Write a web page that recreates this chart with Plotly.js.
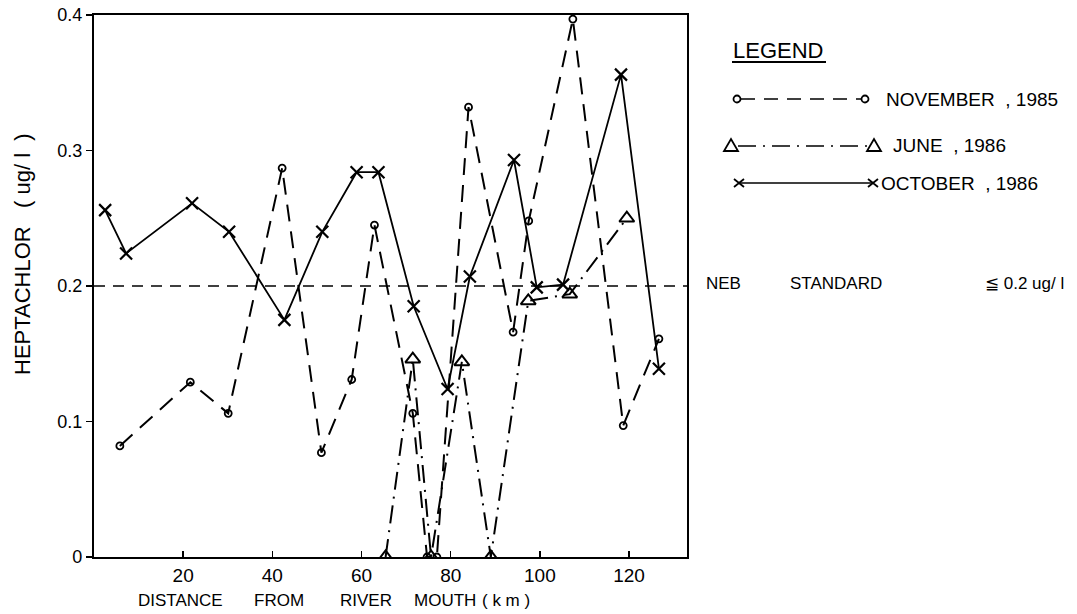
<!DOCTYPE html>
<html>
<head>
<meta charset="utf-8">
<script src="https://cdn.plot.ly/plotly-3.0.1.min.js"></script>
<style>html,body{margin:0;padding:0;background:#fff;}#chart{width:1077px;height:614px;}</style>
</head>
<body>
<div id="chart"></div>
<script>
// Distance from river mouth (km) and heptachlor (ug/l)
var novX = [5.8, 21.6, 30.1, 42.2, 51.0, 57.8, 62.9, 71.5, 74.7, 76.9, 84.0, 94.0, 97.5, 107.4, 118.7, 126.7];
var novY = [0.082, 0.129, 0.106, 0.287, 0.077, 0.131, 0.245, 0.106, 0.0, 0.0, 0.332, 0.166, 0.248, 0.397, 0.097, 0.161];
var junX = [65.4, 71.5, 75.6, 82.5, 89.0, 97.4, 106.7, 119.5];
var junY = [0.0, 0.146, 0.0, 0.144, 0.0, 0.189, 0.194, 0.250];
var octX = [2.5, 7.2, 22.0, 30.3, 42.7, 51.2, 58.9, 63.8, 71.7, 79.3, 84.3, 94.2, 99.3, 105.2, 118.2, 126.7];
var octY = [0.256, 0.224, 0.261, 0.240, 0.175, 0.240, 0.284, 0.284, 0.185, 0.124, 0.207, 0.293, 0.199, 0.201, 0.356, 0.139];
var stdX = [0, 133];
var stdY = [0.2, 0.2];
var xTicks = [20, 40, 60, 80, 100, 120];
var yTicks = [0, 0.1, 0.2, 0.3, 0.4];
var yTickText = ['0', '0.1', '0.2', '0.3', '0.4'];
var seriesNames = ['NOVEMBER , 1985', 'JUNE , 1986', 'OCTOBER , 1986'];
var xTitleWords = ['DISTANCE', 'FROM', 'RIVER', 'MOUTH', '( k m )'];
var stdWords = ['NEB', 'STANDARD', '≦ 0.2 ug/ l'];

var FONT = 'Liberation Sans, Arial, sans-serif';
var INK = '#000';

var traces = [
  {x: stdX, y: stdY, mode: 'lines', line: {color: INK, width: 1.5, dash: '11px,8px'}, hoverinfo: 'skip', name: 'NEB standard'},
  {x: novX, y: novY, mode: 'lines+markers', name: seriesNames[0],
   line: {color: INK, width: 2, dash: '17px,10px'},
   marker: {symbol: 'circle-open', size: 7, color: INK, line: {width: 1.8, color: INK}}},
  {x: junX, y: junY, mode: 'lines+markers', name: seriesNames[1],
   line: {color: INK, width: 2, dash: '18px,7px,2px,7px'},
   marker: {symbol: 'triangle-up-open', size: 13, color: INK, line: {width: 2, color: INK}}},
  {x: octX, y: octY, mode: 'lines+markers', name: seriesNames[2],
   line: {color: INK, width: 1.8},
   marker: {symbol: 'x-thin-open', size: 12, color: INK, line: {width: 2.2, color: INK}}}
];

// paper coordinate helpers (plot area: px 94..687, py 15..557)
function px(x) { return (x - 94) / 593; }
function py(y) { return (557 - y) / 542; }

var shapes = [
  {type: 'line', xref: 'paper', yref: 'paper', x0: px(732), x1: px(826), y0: py(62), y1: py(62), line: {color: INK, width: 2}},
  {type: 'line', xref: 'paper', yref: 'paper', x0: px(741), x1: px(861), y0: py(99), y1: py(99), line: {color: INK, width: 1.6, dash: '14px,9px'}},
  {type: 'line', xref: 'paper', yref: 'paper', x0: px(738), x1: px(867), y0: py(146), y1: py(146), line: {color: INK, width: 1.6, dash: '18px,7px,2px,7px'}},
  {type: 'line', xref: 'paper', yref: 'paper', x0: px(739), x1: px(872), y0: py(183), y1: py(183), line: {color: INK, width: 1.6}}
];
function marker(kind, cx, cy) {
  var base = {xref: 'paper', yref: 'paper', xsizemode: 'pixel', ysizemode: 'pixel', xanchor: px(cx), yanchor: py(cy), line: {color: INK, width: 1.8}};
  if (kind === 'o') { base.type = 'circle'; base.x0 = -3.5; base.x1 = 3.5; base.y0 = -3.5; base.y1 = 3.5; }
  if (kind === 't') { base.type = 'path'; base.path = 'M-7,-5 L7,-5 L0,7 Z'; }
  if (kind === 'x') { base.type = 'path'; base.path = 'M-5,-4 L5,4 M-5,4 L5,-4'; }
  return base;
}
shapes.push(marker('o', 737, 99), marker('o', 865, 99));
shapes.push(marker('t', 731, 146), marker('t', 874, 146));
shapes.push(marker('x', 739, 183), marker('x', 873, 183));

function txt(x, y, s, size, anchor) {
  return {xref: 'paper', yref: 'paper', x: px(x), y: py(y), xanchor: anchor || 'left', yanchor: 'middle',
          showarrow: false, text: s, font: {family: FONT, size: size, color: INK}};
}
var ann = [
  txt(731, 50, 'LEGEND', 22),
  txt(884, 99, seriesNames[0].replace(' , ', '&nbsp;&nbsp;,&nbsp;'), 19),
  txt(891, 146, seriesNames[1].replace(' , ', '&nbsp;&nbsp;,&nbsp;'), 19),
  txt(879, 183, seriesNames[2].replace(' , ', '&nbsp;&nbsp;,&nbsp;'), 19),
  txt(704, 283, stdWords[0], 17),
  txt(788, 283, stdWords[1], 17),
  txt(983, 283, stdWords[2], 17)
];
var xwPos = [136, 252, 338, 412, 480];
for (var i = 0; i < xTitleWords.length; i++) ann.push(txt(xwPos[i], 600, xTitleWords[i], 17));
var yTitle = txt(22, 254, 'HEPTACHLOR&nbsp;&nbsp;&nbsp;(&nbsp;ug/&nbsp;l&nbsp;&nbsp;)', 22, 'center');
yTitle.textangle = -90;
ann.push(yTitle);

var layout = {
  width: 1077, height: 614,
  margin: {l: 94, r: 390, t: 15, b: 57},
  paper_bgcolor: '#fff', plot_bgcolor: '#fff',
  showlegend: false,
  font: {family: FONT, color: INK},
  xaxis: {range: [0, 133], tickvals: xTicks, ticks: 'inside', ticklen: 6, tickwidth: 1.5, tickcolor: INK,
          showline: true, mirror: true, linewidth: 2.2, linecolor: INK, showgrid: false, zeroline: false,
          tickfont: {family: FONT, size: 19, color: INK}},
  yaxis: {range: [0, 0.4], tickvals: yTicks, ticktext: yTickText, ticks: 'outside', ticklen: 6, tickwidth: 1.5, tickcolor: INK,
          showline: true, mirror: true, linewidth: 2.2, linecolor: INK, showgrid: false, zeroline: false,
          tickfont: {family: FONT, size: 18, color: INK}},
  shapes: shapes,
  annotations: ann
};

Plotly.newPlot('chart', traces, layout, {staticPlot: true, displayModeBar: false});
</script>
</body>
</html>
